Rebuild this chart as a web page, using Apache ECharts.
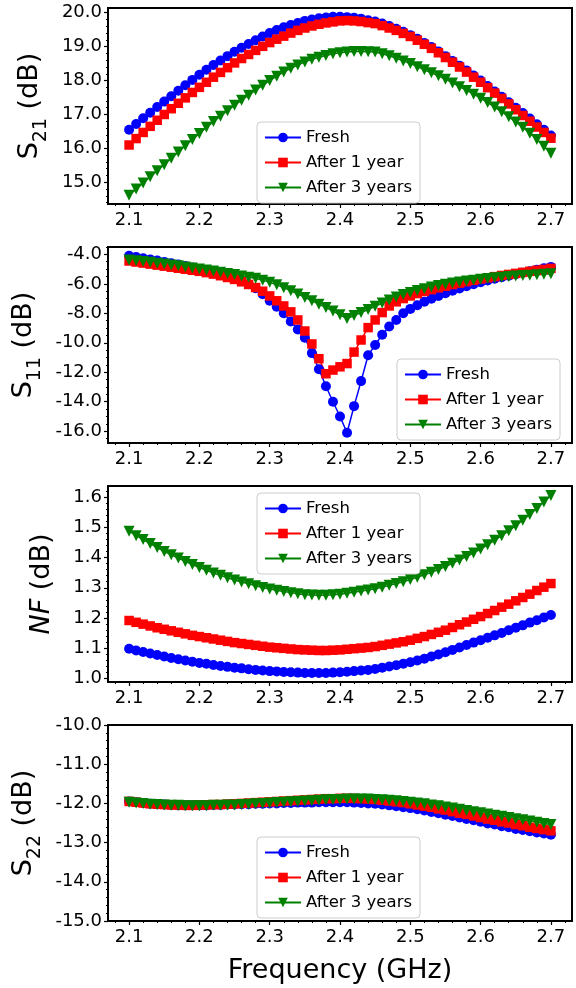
<!DOCTYPE html>
<html>
<head>
<meta charset="utf-8">
<script src="https://cdn.jsdelivr.net/npm/echarts@6/dist/echarts.min.js"></script>
<style>
  html, body { margin: 0; padding: 0; background: #fff; }
  #chart { width: 576px; height: 988px; }
</style>
</head>
<body>
<div id="chart"></div>
<script>
// frequency points (GHz)
const freq = [2.10, 2.11, 2.12, 2.13, 2.14, 2.15, 2.16, 2.17, 2.18, 2.19, 2.20,
  2.21, 2.22, 2.23, 2.24, 2.25, 2.26, 2.27, 2.28, 2.29, 2.30,
  2.31, 2.32, 2.33, 2.34, 2.35, 2.36, 2.37, 2.38, 2.39, 2.40,
  2.41, 2.42, 2.43, 2.44, 2.45, 2.46, 2.47, 2.48, 2.49, 2.50,
  2.51, 2.52, 2.53, 2.54, 2.55, 2.56, 2.57, 2.58, 2.59, 2.60,
  2.61, 2.62, 2.63, 2.64, 2.65, 2.66, 2.67, 2.68, 2.69, 2.70]

const seriesNames = ['Fresh', 'After 1 year', 'After 3 years']

// S21 (dB)
const s21Fresh = [16.55, 16.72, 16.89, 17.05, 17.22, 17.38, 17.54, 17.70, 17.86, 18.02, 18.17,
  18.32, 18.46, 18.59, 18.72, 18.85, 18.97, 19.08, 19.19, 19.30, 19.40,
  19.49, 19.57, 19.64, 19.70, 19.76, 19.80, 19.84, 19.86, 19.88, 19.88,
  19.87, 19.85, 19.82, 19.78, 19.74, 19.68, 19.61, 19.53, 19.44, 19.34,
  19.23, 19.11, 18.99, 18.86, 18.72, 18.58, 18.44, 18.30, 18.15, 18.00,
  17.84, 17.68, 17.52, 17.36, 17.20, 17.04, 16.88, 16.71, 16.55, 16.38]
const s21Year1 = [16.10, 16.29, 16.47, 16.65, 16.83, 17.00, 17.17, 17.33, 17.49, 17.65, 17.80,
  17.95, 18.10, 18.24, 18.38, 18.52, 18.65, 18.77, 18.89, 19.01, 19.12,
  19.22, 19.31, 19.40, 19.48, 19.55, 19.61, 19.66, 19.70, 19.73, 19.76,
  19.77, 19.76, 19.74, 19.71, 19.68, 19.62, 19.55, 19.48, 19.39, 19.30,
  19.19, 19.07, 18.95, 18.82, 18.68, 18.54, 18.40, 18.25, 18.10, 17.95,
  17.79, 17.63, 17.47, 17.31, 17.14, 16.97, 16.80, 16.63, 16.47, 16.30]
const s21Year3 = [14.62, 14.80, 14.98, 15.16, 15.34, 15.52, 15.71, 15.89, 16.08, 16.26, 16.44,
  16.62, 16.79, 16.95, 17.11, 17.27, 17.42, 17.57, 17.72, 17.86, 18.00,
  18.13, 18.25, 18.36, 18.46, 18.55, 18.63, 18.69, 18.74, 18.79, 18.82,
  18.84, 18.86, 18.86, 18.85, 18.84, 18.79, 18.73, 18.66, 18.58, 18.50,
  18.41, 18.32, 18.23, 18.14, 18.04, 17.93, 17.82, 17.71, 17.60, 17.48,
  17.35, 17.22, 17.08, 16.93, 16.78, 16.62, 16.45, 16.26, 16.06, 15.86]

// S11 (dB)
const s11Fresh = [-4.10, -4.18, -4.26, -4.34, -4.42, -4.51, -4.60, -4.69, -4.79, -4.89, -5.00,
  -5.11, -5.23, -5.36, -5.50, -5.66, -5.83, -6.03, -6.30, -6.70, -7.15,
  -7.55, -8.00, -8.55, -9.10, -9.65, -10.70, -11.80, -12.95, -14.00, -15.00,
  -16.10, -14.30, -12.60, -10.85, -10.15, -9.45, -8.90, -8.45, -8.00, -7.70,
  -7.45, -7.22, -7.01, -6.82, -6.64, -6.47, -6.31, -6.16, -6.02, -5.89,
  -5.77, -5.66, -5.55, -5.45, -5.35, -5.25, -5.15, -5.05, -4.95, -4.85]
const s11Year1 = [-4.45, -4.52, -4.59, -4.66, -4.73, -4.80, -4.87, -4.94, -5.01, -5.08, -5.15,
  -5.24, -5.34, -5.45, -5.57, -5.70, -5.86, -6.04, -6.25, -6.50, -6.82,
  -7.15, -7.50, -7.90, -8.45, -9.20, -10.08, -11.08, -12.10, -11.85, -11.63,
  -11.41, -10.63, -9.81, -8.97, -8.45, -7.95, -7.50, -7.22, -7.00, -6.82,
  -6.66, -6.52, -6.39, -6.27, -6.16, -6.05, -5.95, -5.85, -5.76, -5.67,
  -5.59, -5.51, -5.43, -5.36, -5.29, -5.22, -5.15, -5.08, -5.02, -4.95]
const s11Year3 = [-4.38, -4.43, -4.48, -4.54, -4.60, -4.66, -4.72, -4.78, -4.85, -4.92, -4.99,
  -5.06, -5.13, -5.21, -5.29, -5.37, -5.46, -5.55, -5.62, -5.75, -5.90,
  -6.07, -6.26, -6.47, -6.69, -6.92, -7.15, -7.38, -7.61, -7.85, -8.10,
  -8.35, -8.15, -7.95, -7.74, -7.52, -7.30, -7.09, -6.90, -6.73, -6.58,
  -6.45, -6.33, -6.22, -6.12, -6.03, -5.95, -5.88, -5.81, -5.75, -5.69,
  -5.64, -5.59, -5.55, -5.51, -5.47, -5.44, -5.41, -5.38, -5.35, -5.32]

// NF (dB)
const nfFresh = [1.099, 1.093, 1.088, 1.083, 1.078, 1.073, 1.068, 1.064, 1.060, 1.056, 1.052,
  1.049, 1.045, 1.042, 1.039, 1.036, 1.034, 1.031, 1.029, 1.027, 1.025,
  1.024, 1.022, 1.021, 1.020, 1.019, 1.019, 1.019, 1.019, 1.020, 1.021,
  1.023, 1.025, 1.027, 1.029, 1.032, 1.036, 1.040, 1.044, 1.049, 1.054,
  1.060, 1.066, 1.073, 1.080, 1.087, 1.095, 1.103, 1.111, 1.119, 1.127,
  1.135, 1.143, 1.151, 1.160, 1.168, 1.176, 1.185, 1.193, 1.202, 1.210]
const nfYear1 = [1.192, 1.186, 1.180, 1.174, 1.168, 1.163, 1.158, 1.153, 1.148, 1.143, 1.139,
  1.135, 1.131, 1.127, 1.123, 1.119, 1.116, 1.113, 1.110, 1.107, 1.104,
  1.102, 1.100, 1.098, 1.096, 1.095, 1.094, 1.093, 1.093, 1.094, 1.095,
  1.097, 1.099, 1.101, 1.103, 1.106, 1.110, 1.114, 1.118, 1.122, 1.127,
  1.133, 1.139, 1.146, 1.153, 1.160, 1.169, 1.178, 1.187, 1.196, 1.205,
  1.215, 1.225, 1.236, 1.246, 1.257, 1.268, 1.279, 1.291, 1.302, 1.314]
const nfYear3 = [1.487, 1.472, 1.459, 1.446, 1.433, 1.420, 1.409, 1.398, 1.387, 1.377, 1.367,
  1.358, 1.349, 1.341, 1.333, 1.326, 1.319, 1.313, 1.307, 1.301, 1.296,
  1.292, 1.288, 1.284, 1.280, 1.277, 1.276, 1.275, 1.275, 1.277, 1.279,
  1.282, 1.285, 1.289, 1.293, 1.297, 1.302, 1.308, 1.314, 1.320, 1.327,
  1.335, 1.343, 1.351, 1.360, 1.370, 1.381, 1.392, 1.403, 1.415, 1.428,
  1.442, 1.457, 1.472, 1.488, 1.505, 1.523, 1.542, 1.562, 1.583, 1.605]

// S22 (dB)
const s22Fresh = [-11.95, -11.97, -11.99, -12.01, -12.02, -12.03, -12.04, -12.05, -12.05, -12.05, -12.05,
  -12.05, -12.04, -12.04, -12.03, -12.03, -12.02, -12.02, -12.01, -12.01, -12.00,
  -12.00, -11.99, -11.99, -11.98, -11.98, -11.98, -11.97, -11.97, -11.97, -11.97,
  -11.97, -11.98, -11.99, -12.00, -12.01, -12.03, -12.05, -12.07, -12.10, -12.12,
  -12.15, -12.18, -12.22, -12.25, -12.29, -12.32, -12.36, -12.40, -12.43, -12.47,
  -12.51, -12.54, -12.58, -12.61, -12.65, -12.68, -12.71, -12.74, -12.77, -12.80]
const s22Year1 = [-11.95, -11.97, -11.99, -12.01, -12.02, -12.03, -12.04, -12.04, -12.05, -12.05, -12.04,
  -12.04, -12.03, -12.03, -12.02, -12.01, -12.00, -11.99, -11.98, -11.97, -11.96,
  -11.95, -11.94, -11.93, -11.92, -11.91, -11.90, -11.89, -11.88, -11.88, -11.87,
  -11.87, -11.87, -11.88, -11.89, -11.90, -11.92, -11.94, -11.96, -11.98, -12.01,
  -12.04, -12.07, -12.10, -12.14, -12.17, -12.21, -12.25, -12.28, -12.32, -12.36,
  -12.40, -12.43, -12.47, -12.50, -12.54, -12.57, -12.61, -12.64, -12.67, -12.70]
const s22Year3 = [-11.97, -11.99, -12.00, -12.02, -12.03, -12.04, -12.05, -12.05, -12.06, -12.06, -12.06,
  -12.06, -12.05, -12.05, -12.04, -12.04, -12.03, -12.02, -12.01, -12.00, -11.99,
  -11.98, -11.97, -11.96, -11.95, -11.94, -11.93, -11.92, -11.91, -11.90, -11.90,
  -11.89, -11.89, -11.89, -11.89, -11.90, -11.91, -11.92, -11.93, -11.95, -11.97,
  -11.99, -12.01, -12.04, -12.06, -12.09, -12.12, -12.15, -12.18, -12.21, -12.24,
  -12.27, -12.30, -12.33, -12.36, -12.39, -12.42, -12.45, -12.48, -12.51, -12.54]

// tick labels
const xTicks = [2.1, 2.2, 2.3, 2.4, 2.5, 2.6, 2.7]
const s21Ticks = [15, 16, 17, 18, 19, 20]
const s11Ticks = [-16, -14, -12, -10, -8, -6, -4]
const nfTicks = [1.0, 1.1, 1.2, 1.3, 1.4, 1.5, 1.6]
const s22Ticks = [-15, -14, -13, -12, -11, -10]

const FONT = 'DejaVu Sans'
const colors = ['#0000ff', '#ff0000', '#008000']
const symbols = ['circle', 'rect', 'triangle']
const symbolSizes = [10, 9.5, 11]
const xMin = 2.07, xMax = 2.73

const panels = [
  { data: [s21Fresh, s21Year1, s21Year3], ticks: s21Ticks, min: 14.36, max: 20.14, div: 5,
    name: '{t|S}{s|21}{t| (dB)}', nameGap: 60, legend: { left: 257, top: 122 } },
  { data: [s11Fresh, s11Year1, s11Year3], ticks: s11Ticks, min: -16.8, max: -3.5, div: 4,
    name: '{t|S}{s|11}{t| (dB)}', nameGap: 68, legend: { left: 397, top: 359 } },
  { data: [nfFresh, nfYear1, nfYear3], ticks: nfTicks, min: 0.989, max: 1.636, div: 5,
    name: '{i|NF}{t| (dB)}', nameGap: 50, legend: { left: 257, top: 493 } },
  { data: [s22Fresh, s22Year1, s22Year3], ticks: s22Ticks, min: -15, max: -10, div: 5,
    name: '{t|S}{s|22}{t| (dB)}', nameGap: 68, legend: { left: 257, top: 837 } }
]

const gridTop = [8, 247, 486, 725]
const gridH = 196

function minorTicks(majors, div, min, max) {
  const step = (majors[1] - majors[0]) / div
  const out = []
  let v = majors[0]
  while (v - step >= min - 1e-9) v -= step
  for (; v <= max + 1e-9; v += step) {
    const r = Math.round(v * 1e6) / 1e6
    if (!majors.some(m => Math.abs(m - r) < 1e-6)) out.push(r)
  }
  return out
}

const grid = [], xAxis = [], yAxis = [], series = [], legend = []
const nameRich = {
  t: { fontSize: 27, fontFamily: FONT, color: '#000', lineHeight: 32 },
  i: { fontSize: 27, fontFamily: FONT, fontStyle: 'italic', color: '#000', lineHeight: 32 },
  s: { fontSize: 19, fontFamily: FONT, color: '#000', lineHeight: 32, verticalAlign: 'bottom', padding: [0, 0, -5, 0] }
}
const xMinor = minorTicks(xTicks, 5, xMin, xMax)

panels.forEach((p, i) => {
  grid.push({ left: 108, right: 4, top: gridTop[i], height: gridH, show: true,
    borderColor: '#000', borderWidth: 2, backgroundColor: 'transparent' })
  // major x
  xAxis.push({ type: 'value', gridIndex: i, min: xMin, max: xMax,
    axisLine: { show: false }, splitLine: { show: false },
    axisTick: { customValues: xTicks, length: 4, lineStyle: { color: '#000', width: 1.2 } },
    axisLabel: { customValues: xTicks, formatter: v => v.toFixed(1), fontSize: 18, fontFamily: FONT, color: '#000', margin: 7 },
    name: i === 3 ? 'Frequency (GHz)' : '', nameLocation: 'middle', nameGap: 36,
    nameTextStyle: { fontSize: 27, fontFamily: FONT, color: '#000' } })
  const yMinor = minorTicks(p.ticks, p.div, p.min, p.max)
  yAxis.push({ type: 'value', gridIndex: i, min: p.min, max: p.max,
    axisLine: { show: false }, splitLine: { show: false },
    axisTick: { customValues: p.ticks, length: 4, lineStyle: { color: '#000', width: 1.2 } },
    axisLabel: { customValues: p.ticks, formatter: v => v.toFixed(1), fontSize: 18, fontFamily: FONT, color: '#000', margin: 6 },
    name: p.name, nameLocation: 'middle', nameRotate: 90, nameGap: p.nameGap,
    nameTextStyle: { rich: nameRich } })
  p.yMinor = yMinor
  p.data.forEach((vals, k) => {
    series.push({ type: 'line', name: seriesNames[k], xAxisIndex: i, yAxisIndex: i,
      data: freq.map((f, j) => [f, vals[j]]),
      symbol: symbols[k], symbolSize: symbolSizes[k], symbolRotate: k === 2 ? 180 : 0,
      showAllSymbol: true, clip: false,
      itemStyle: { color: colors[k] }, lineStyle: { color: colors[k], width: 1.5 } })
  })
  legend.push({ orient: 'vertical', left: p.legend.left, top: p.legend.top,
    data: seriesNames, itemWidth: 36, itemHeight: 12, itemGap: 8,
    padding: [7, 8, 7, 7], backgroundColor: '#fff', borderColor: '#cccccc',
    borderWidth: 1, borderRadius: 4, selectedMode: false,
    textStyle: { fontSize: 16.5, fontFamily: FONT, color: '#000', lineHeight: 16 } })
})

// minor tick axes, layered on the same grids
panels.forEach((p, i) => {
  xAxis.push({ type: 'value', gridIndex: i, min: xMin, max: xMax, position: 'bottom',
    axisLine: { show: false }, splitLine: { show: false }, axisLabel: { show: false },
    axisTick: { customValues: xMinor, length: 2, lineStyle: { color: '#000', width: 1 } } })
  yAxis.push({ type: 'value', gridIndex: i, min: p.min, max: p.max, position: 'left',
    axisLine: { show: false }, splitLine: { show: false }, axisLabel: { show: false },
    axisTick: { customValues: p.yMinor, length: 2, lineStyle: { color: '#000', width: 1 } } })
})

const chart = echarts.init(document.getElementById('chart'), null, { renderer: 'canvas' })
chart.setOption({
  animation: false,
  backgroundColor: '#fff',
  grid, xAxis, yAxis, series, legend
})
</script>
</body>
</html>
